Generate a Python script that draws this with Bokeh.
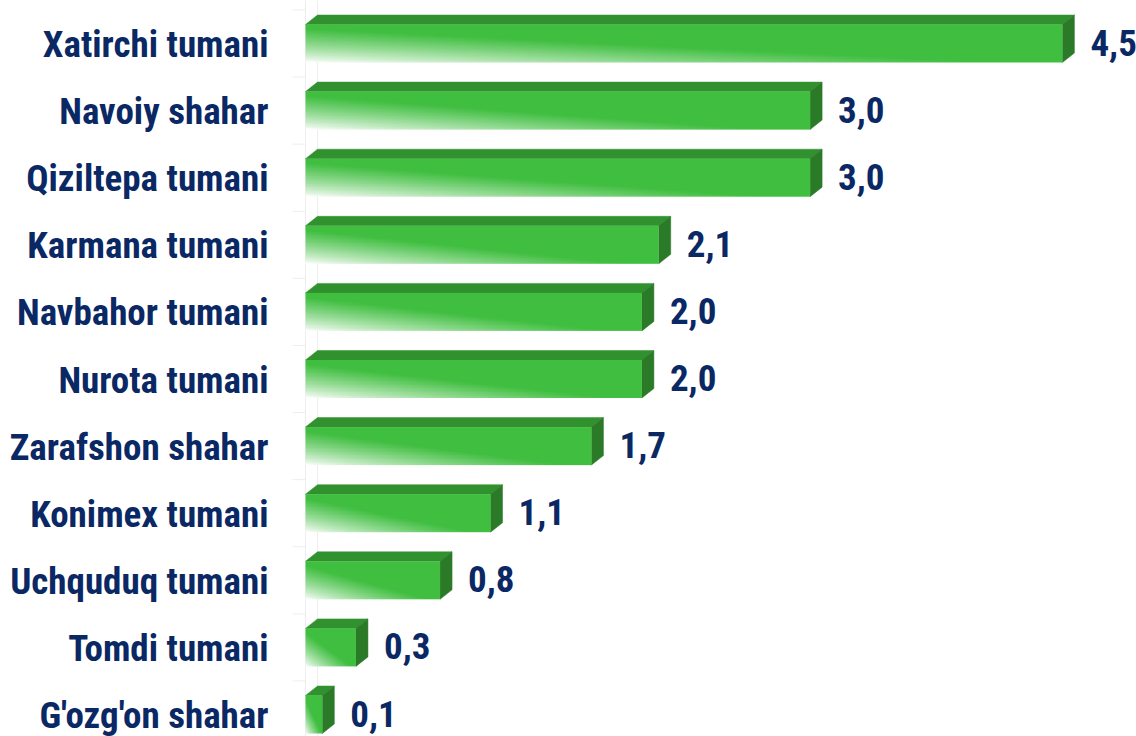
import numpy as np
from bokeh.plotting import figure
from bokeh.models import Range1d
from bokeh.core.properties import value
from bokeh.embed import file_html
from bokeh.resources import INLINE

categories = ["Xatirchi tumani", "Navoiy shahar", "Qiziltepa tumani", "Karmana tumani",
              "Navbahor tumani", "Nurota tumani", "Zarafshon shahar", "Konimex tumani",
              "Uchquduq tumani", "Tomdi tumani", "G'ozg'on shahar"]
values = [4.5, 3.0, 3.0, 2.1, 2.0, 2.0, 1.7, 1.1, 0.8, 0.3, 0.1]
value_labels = ["4,5", "3,0", "3,0", "2,1", "2,0", "2,0", "1,7", "1,1", "0,8", "0,3", "0,1"]

W, H = 1136, 736
X0_PX = 305.0        # canvas x of value 0
PX_PER_UNIT = 168.2
ROW0_PX = 43.0       # canvas y of first row centre
ROW_PX = 67.1
n = len(categories)

FONT = "'Roboto Condensed', 'Liberation Sans Narrow', Roboto, sans-serif"
NAVY = "#0a2864"
FRONT = (63, 190, 63)
TOP = "#31912f"
SIDE = "#2a7a28"

x_range = Range1d(-X0_PX / PX_PER_UNIT, (W - X0_PX) / PX_PER_UNIT)
y_top = (n - 1) + ROW0_PX / ROW_PX
y_bot = (n - 1) - (H - ROW0_PX) / ROW_PX
y_range = Range1d(y_bot, y_top)

p = figure(width=W, height=H, x_range=x_range, y_range=y_range,
           output_backend="svg", toolbar_location=None,
           x_axis_location=None, y_axis_location=None, min_border=0)
p.grid.visible = False
p.outline_line_color = None
p.background_fill_color = "white"
p.border_fill_color = "white"

ypos = [n - 1 - i for i in range(n)]
h = 38.0 / ROW_PX                # front face height (rows)
dx = 12.0 / PX_PER_UNIT          # depth in x (units)
dy = 9.5 / ROW_PX                # depth in y (rows)

# faint 3D axis wall
tick_len = 13.0 / PX_PER_UNIT
p.segment(x0=[0, dx], y0=[y_bot, y_bot], x1=[0, dx], y1=[y_top, y_top],
          line_color="#eeeeee", line_width=1)
bounds = [y + 0.5 for y in ypos] + [ypos[-1] - 0.5]
p.segment(x0=[-tick_len] * len(bounds), y0=bounds, x1=[0] * len(bounds), y1=bounds,
          line_color="#eeeeee", line_width=1)

# top and side faces
top_xs, top_ys, side_xs, side_ys = [], [], [], []
for v, yc in zip(values, ypos):
    t = yc + h / 2
    b = yc - h / 2
    top_xs.append([0, v, v + dx, dx])
    top_ys.append([t, t, t + dy, t + dy])
    side_xs.append([v, v + dx, v + dx, v])
    side_ys.append([t, t + dy, b + dy, b])
p.patches(top_xs, top_ys, fill_color=TOP, line_color=TOP, line_width=0.5)
p.patches(side_xs, side_ys, fill_color=SIDE, line_color=SIDE, line_width=0.5)

# gradient front faces
GW, GH = 400, 48
u = np.linspace(0, 1, GW)[None, :]
w = np.linspace(0, 1, GH)[:, None]
s = (u + w) / 2.0
f = np.clip(s / 0.45, 0, 1) ** 0.8
img = np.empty((GH, GW), dtype=np.uint32)
view = img.view(dtype=np.uint8).reshape((GH, GW, 4))
for k in range(3):
    view[:, :, k] = np.round(255 + (FRONT[k] - 255) * f).astype(np.uint8)
view[:, :, 3] = 255
p.image_rgba(image=[img] * n, x=[0] * n, y=[yc - h / 2 for yc in ypos],
             dw=values, dh=[h] * n)

# category labels
p.text(x=[0] * n, y=ypos, text=categories, x_offset=-37, y_offset=1,
       text_align="right", text_baseline="middle",
       text_font=value(FONT), text_font_style="bold", text_font_size="37px",
       text_color=NAVY)

# value labels
p.text(x=values, y=ypos, text=value_labels, x_offset=28, y_offset=-1,
       text_align="left", text_baseline="middle",
       text_font=value(FONT), text_font_style="bold", text_font_size="37px",
       text_color=NAVY)

open("out.html", "w").write(file_html(p, INLINE))
